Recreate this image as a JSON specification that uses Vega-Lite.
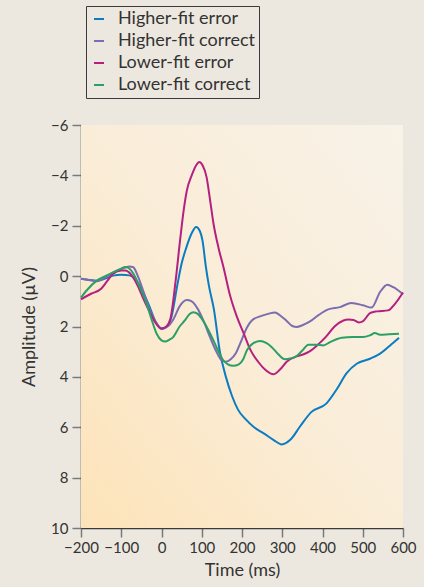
{
  "$schema": "https://vega.github.io/schema/vega-lite/v6.json",
  "autosize": {"type": "none"},
  "width": 322,
  "height": 403,
  "padding": {"left": 81, "top": 125, "right": 21, "bottom": 59},
  "background": "#ede8df",
  "config": {
    "view": {"stroke": null},
    "font": "Lato",
    "axis": {
      "grid": false,
      "domainColor": "#3a3a3a",
      "domainWidth": 1.5,
      "tickColor": "#7a7a7a",
      "tickWidth": 1.5,
      "tickSize": 9,
      "labelFont": "Lato",
      "labelFontSize": 15,
      "labelColor": "#333333",
      "labelOverlap": false,
      "labelFlush": false,
      "titleFont": "Lato",
      "titleFontSize": 18,
      "titleFontWeight": "normal",
      "titleColor": "#333333"
    },
    "legend": {
      "orient": "none",
      "legendX": 5,
      "legendY": -119,
      "strokeColor": "#3a3a3a",
      "strokeWidth": 1,
      "fillColor": "#ede8df",
      "padding": 4,
      "symbolType": "stroke",
      "symbolSize": 100,
      "symbolStrokeWidth": 2,
      "labelFont": "Lato",
      "labelFontSize": 18,
      "labelColor": "#333333",
      "labelOffset": 10,
      "labelLimit": 300,
      "rowPadding": 4
    }
  },
  "layer": [
    {
      "data": {"values": [{"panel": "background"}]},
      "mark": {
        "type": "rect",
        "color": {
          "gradient": "linear",
          "x1": 0, "y1": 1, "x2": 1, "y2": 0,
          "stops": [
            {"offset": 0, "color": "#fde3b8"},
            {"offset": 0.5, "color": "#faedd8"},
            {"offset": 1, "color": "#f8f2e8"}
          ]
        }
      },
      "encoding": {
        "x": {"datum": -200, "type": "quantitative", "scale": {"domain": [-200, 600], "nice": false}, "axis": {"values": [-200, -100, 0, 100, 200, 300, 400, 500, 600], "labelPadding": 3, "titlePadding": 6}, "title": "Time (ms)"},
        "x2": {"datum": 600},
        "y": {"datum": -6, "type": "quantitative", "scale": {"domain": [-6, 10], "reverse": true, "nice": false}, "axis": {"values": [-6, -4, -2, 0, 2, 4, 6, 8, 10], "labelPadding": 4, "titlePadding": 12}, "title": "Amplitude (µV)"},
        "y2": {"datum": 10}
      }
    },
    {
      "data": {
        "values": [
          {"s": "Higher-fit error", "t": -200, "a": 0.1},
          {"s": "Higher-fit error", "t": -180, "a": 0.15},
          {"s": "Higher-fit error", "t": -160, "a": 0.18},
          {"s": "Higher-fit error", "t": -140, "a": 0.1},
          {"s": "Higher-fit error", "t": -120, "a": -0.02},
          {"s": "Higher-fit error", "t": -100, "a": -0.05},
          {"s": "Higher-fit error", "t": -80, "a": -0.03},
          {"s": "Higher-fit error", "t": -65, "a": 0.12},
          {"s": "Higher-fit error", "t": -50, "a": 0.5},
          {"s": "Higher-fit error", "t": -30, "a": 1.2},
          {"s": "Higher-fit error", "t": -15, "a": 1.8},
          {"s": "Higher-fit error", "t": 0, "a": 2.1},
          {"s": "Higher-fit error", "t": 10, "a": 2.05},
          {"s": "Higher-fit error", "t": 25, "a": 1.6},
          {"s": "Higher-fit error", "t": 40, "a": 0.3},
          {"s": "Higher-fit error", "t": 50, "a": -0.5},
          {"s": "Higher-fit error", "t": 62, "a": -1.15},
          {"s": "Higher-fit error", "t": 75, "a": -1.7},
          {"s": "Higher-fit error", "t": 86, "a": -1.95},
          {"s": "Higher-fit error", "t": 95, "a": -1.8},
          {"s": "Higher-fit error", "t": 102, "a": -1.4},
          {"s": "Higher-fit error", "t": 110, "a": -0.4},
          {"s": "Higher-fit error", "t": 118, "a": 0.4},
          {"s": "Higher-fit error", "t": 130, "a": 1.3},
          {"s": "Higher-fit error", "t": 145, "a": 3.0},
          {"s": "Higher-fit error", "t": 160, "a": 4.0},
          {"s": "Higher-fit error", "t": 175, "a": 4.75},
          {"s": "Higher-fit error", "t": 190, "a": 5.3},
          {"s": "Higher-fit error", "t": 210, "a": 5.7},
          {"s": "Higher-fit error", "t": 230, "a": 6.0},
          {"s": "Higher-fit error", "t": 255, "a": 6.25},
          {"s": "Higher-fit error", "t": 278, "a": 6.5},
          {"s": "Higher-fit error", "t": 299, "a": 6.68},
          {"s": "Higher-fit error", "t": 320, "a": 6.5},
          {"s": "Higher-fit error", "t": 345, "a": 5.95},
          {"s": "Higher-fit error", "t": 372, "a": 5.4},
          {"s": "Higher-fit error", "t": 410, "a": 5.05},
          {"s": "Higher-fit error", "t": 435, "a": 4.5},
          {"s": "Higher-fit error", "t": 460, "a": 3.85},
          {"s": "Higher-fit error", "t": 485, "a": 3.48},
          {"s": "Higher-fit error", "t": 518, "a": 3.28},
          {"s": "Higher-fit error", "t": 543, "a": 3.08},
          {"s": "Higher-fit error", "t": 568, "a": 2.75},
          {"s": "Higher-fit error", "t": 590, "a": 2.45},

          {"s": "Higher-fit correct", "t": -200, "a": 0.1},
          {"s": "Higher-fit correct", "t": -180, "a": 0.15},
          {"s": "Higher-fit correct", "t": -160, "a": 0.2},
          {"s": "Higher-fit correct", "t": -140, "a": 0.05},
          {"s": "Higher-fit correct", "t": -120, "a": -0.15},
          {"s": "Higher-fit correct", "t": -100, "a": -0.28},
          {"s": "Higher-fit correct", "t": -80, "a": -0.38},
          {"s": "Higher-fit correct", "t": -70, "a": -0.35},
          {"s": "Higher-fit correct", "t": -60, "a": -0.05},
          {"s": "Higher-fit correct", "t": -45, "a": 0.6},
          {"s": "Higher-fit correct", "t": -30, "a": 1.3},
          {"s": "Higher-fit correct", "t": -15, "a": 1.8},
          {"s": "Higher-fit correct", "t": 0, "a": 2.08},
          {"s": "Higher-fit correct", "t": 15, "a": 2.0},
          {"s": "Higher-fit correct", "t": 30, "a": 1.7},
          {"s": "Higher-fit correct", "t": 45, "a": 1.2},
          {"s": "Higher-fit correct", "t": 63, "a": 0.95},
          {"s": "Higher-fit correct", "t": 75, "a": 1.0},
          {"s": "Higher-fit correct", "t": 90, "a": 1.3},
          {"s": "Higher-fit correct", "t": 105, "a": 1.8},
          {"s": "Higher-fit correct", "t": 120, "a": 2.4},
          {"s": "Higher-fit correct", "t": 135, "a": 2.95},
          {"s": "Higher-fit correct", "t": 150, "a": 3.35},
          {"s": "Higher-fit correct", "t": 160, "a": 3.4},
          {"s": "Higher-fit correct", "t": 172, "a": 3.3},
          {"s": "Higher-fit correct", "t": 185, "a": 3.05},
          {"s": "Higher-fit correct", "t": 200, "a": 2.5},
          {"s": "Higher-fit correct", "t": 212, "a": 2.05},
          {"s": "Higher-fit correct", "t": 225, "a": 1.75},
          {"s": "Higher-fit correct", "t": 245, "a": 1.6},
          {"s": "Higher-fit correct", "t": 265, "a": 1.5},
          {"s": "Higher-fit correct", "t": 282, "a": 1.44},
          {"s": "Higher-fit correct", "t": 298, "a": 1.6},
          {"s": "Higher-fit correct", "t": 311, "a": 1.78},
          {"s": "Higher-fit correct", "t": 325, "a": 1.98},
          {"s": "Higher-fit correct", "t": 336, "a": 2.02},
          {"s": "Higher-fit correct", "t": 350, "a": 1.95},
          {"s": "Higher-fit correct", "t": 369, "a": 1.8},
          {"s": "Higher-fit correct", "t": 390, "a": 1.55},
          {"s": "Higher-fit correct", "t": 414, "a": 1.32},
          {"s": "Higher-fit correct", "t": 443, "a": 1.23},
          {"s": "Higher-fit correct", "t": 472, "a": 1.07},
          {"s": "Higher-fit correct", "t": 501, "a": 1.16},
          {"s": "Higher-fit correct", "t": 522, "a": 1.25},
          {"s": "Higher-fit correct", "t": 543, "a": 0.63},
          {"s": "Higher-fit correct", "t": 561, "a": 0.34},
          {"s": "Higher-fit correct", "t": 576, "a": 0.44},
          {"s": "Higher-fit correct", "t": 600, "a": 0.72},

          {"s": "Lower-fit error", "t": -200, "a": 0.92},
          {"s": "Lower-fit error", "t": -175, "a": 0.7},
          {"s": "Lower-fit error", "t": -150, "a": 0.5},
          {"s": "Lower-fit error", "t": -135, "a": 0.2},
          {"s": "Lower-fit error", "t": -120, "a": -0.1},
          {"s": "Lower-fit error", "t": -100, "a": -0.22},
          {"s": "Lower-fit error", "t": -90, "a": -0.22},
          {"s": "Lower-fit error", "t": -75, "a": -0.05},
          {"s": "Lower-fit error", "t": -60, "a": 0.35},
          {"s": "Lower-fit error", "t": -45, "a": 0.9},
          {"s": "Lower-fit error", "t": -30, "a": 1.4},
          {"s": "Lower-fit error", "t": -15, "a": 1.85},
          {"s": "Lower-fit error", "t": 0, "a": 2.08},
          {"s": "Lower-fit error", "t": 12, "a": 2.0},
          {"s": "Lower-fit error", "t": 22, "a": 1.7},
          {"s": "Lower-fit error", "t": 35, "a": 0.2},
          {"s": "Lower-fit error", "t": 46, "a": -1.4},
          {"s": "Lower-fit error", "t": 55, "a": -2.6},
          {"s": "Lower-fit error", "t": 63, "a": -3.4},
          {"s": "Lower-fit error", "t": 75, "a": -4.0},
          {"s": "Lower-fit error", "t": 88, "a": -4.45},
          {"s": "Lower-fit error", "t": 94, "a": -4.53},
          {"s": "Lower-fit error", "t": 102, "a": -4.4},
          {"s": "Lower-fit error", "t": 112, "a": -3.93},
          {"s": "Lower-fit error", "t": 120, "a": -3.1},
          {"s": "Lower-fit error", "t": 129, "a": -2.1},
          {"s": "Lower-fit error", "t": 142, "a": -1.1},
          {"s": "Lower-fit error", "t": 154, "a": -0.35},
          {"s": "Lower-fit error", "t": 170, "a": 0.75},
          {"s": "Lower-fit error", "t": 187, "a": 1.6},
          {"s": "Lower-fit error", "t": 205, "a": 2.3},
          {"s": "Lower-fit error", "t": 220, "a": 2.9},
          {"s": "Lower-fit error", "t": 240, "a": 3.4},
          {"s": "Lower-fit error", "t": 260, "a": 3.75},
          {"s": "Lower-fit error", "t": 278, "a": 3.9},
          {"s": "Lower-fit error", "t": 295, "a": 3.7},
          {"s": "Lower-fit error", "t": 311, "a": 3.4},
          {"s": "Lower-fit error", "t": 336, "a": 3.18},
          {"s": "Lower-fit error", "t": 350, "a": 3.12},
          {"s": "Lower-fit error", "t": 369, "a": 2.98},
          {"s": "Lower-fit error", "t": 390, "a": 2.7},
          {"s": "Lower-fit error", "t": 410, "a": 2.38},
          {"s": "Lower-fit error", "t": 430, "a": 2.0},
          {"s": "Lower-fit error", "t": 452, "a": 1.76},
          {"s": "Lower-fit error", "t": 465, "a": 1.72},
          {"s": "Lower-fit error", "t": 477, "a": 1.74},
          {"s": "Lower-fit error", "t": 490, "a": 1.84},
          {"s": "Lower-fit error", "t": 500, "a": 1.8},
          {"s": "Lower-fit error", "t": 518, "a": 1.47},
          {"s": "Lower-fit error", "t": 535, "a": 1.4},
          {"s": "Lower-fit error", "t": 563, "a": 1.36},
          {"s": "Lower-fit error", "t": 580, "a": 1.1},
          {"s": "Lower-fit error", "t": 600, "a": 0.65},

          {"s": "Lower-fit correct", "t": -200, "a": 0.85},
          {"s": "Lower-fit correct", "t": -185, "a": 0.55},
          {"s": "Lower-fit correct", "t": -160, "a": 0.17},
          {"s": "Lower-fit correct", "t": -140, "a": 0.0},
          {"s": "Lower-fit correct", "t": -120, "a": -0.15},
          {"s": "Lower-fit correct", "t": -100, "a": -0.3},
          {"s": "Lower-fit correct", "t": -90, "a": -0.36},
          {"s": "Lower-fit correct", "t": -80, "a": -0.3},
          {"s": "Lower-fit correct", "t": -70, "a": -0.1},
          {"s": "Lower-fit correct", "t": -55, "a": 0.4},
          {"s": "Lower-fit correct", "t": -37, "a": 1.1},
          {"s": "Lower-fit correct", "t": -25, "a": 1.7},
          {"s": "Lower-fit correct", "t": -12, "a": 2.29},
          {"s": "Lower-fit correct", "t": 0, "a": 2.55},
          {"s": "Lower-fit correct", "t": 9, "a": 2.6},
          {"s": "Lower-fit correct", "t": 20, "a": 2.52},
          {"s": "Lower-fit correct", "t": 29, "a": 2.42},
          {"s": "Lower-fit correct", "t": 45, "a": 2.0},
          {"s": "Lower-fit correct", "t": 58, "a": 1.76},
          {"s": "Lower-fit correct", "t": 70, "a": 1.5},
          {"s": "Lower-fit correct", "t": 79, "a": 1.43},
          {"s": "Lower-fit correct", "t": 90, "a": 1.5},
          {"s": "Lower-fit correct", "t": 100, "a": 1.69},
          {"s": "Lower-fit correct", "t": 115, "a": 2.1},
          {"s": "Lower-fit correct", "t": 129, "a": 2.55},
          {"s": "Lower-fit correct", "t": 142, "a": 3.0},
          {"s": "Lower-fit correct", "t": 154, "a": 3.35},
          {"s": "Lower-fit correct", "t": 165, "a": 3.5},
          {"s": "Lower-fit correct", "t": 178, "a": 3.56},
          {"s": "Lower-fit correct", "t": 192, "a": 3.5},
          {"s": "Lower-fit correct", "t": 203, "a": 3.3},
          {"s": "Lower-fit correct", "t": 212, "a": 2.95},
          {"s": "Lower-fit correct", "t": 225, "a": 2.7},
          {"s": "Lower-fit correct", "t": 245, "a": 2.58},
          {"s": "Lower-fit correct", "t": 260, "a": 2.65},
          {"s": "Lower-fit correct", "t": 274, "a": 2.82},
          {"s": "Lower-fit correct", "t": 290, "a": 3.1},
          {"s": "Lower-fit correct", "t": 307, "a": 3.3},
          {"s": "Lower-fit correct", "t": 320, "a": 3.27},
          {"s": "Lower-fit correct", "t": 336, "a": 3.17},
          {"s": "Lower-fit correct", "t": 350, "a": 2.95},
          {"s": "Lower-fit correct", "t": 365, "a": 2.72},
          {"s": "Lower-fit correct", "t": 385, "a": 2.72},
          {"s": "Lower-fit correct", "t": 402, "a": 2.75},
          {"s": "Lower-fit correct", "t": 419, "a": 2.62},
          {"s": "Lower-fit correct", "t": 448, "a": 2.45},
          {"s": "Lower-fit correct", "t": 475, "a": 2.42},
          {"s": "Lower-fit correct", "t": 501, "a": 2.42},
          {"s": "Lower-fit correct", "t": 518, "a": 2.35},
          {"s": "Lower-fit correct", "t": 530, "a": 2.26},
          {"s": "Lower-fit correct", "t": 543, "a": 2.33},
          {"s": "Lower-fit correct", "t": 565, "a": 2.31},
          {"s": "Lower-fit correct", "t": 590, "a": 2.29}
        ]
      },
      "mark": {"type": "line", "interpolate": "monotone", "strokeWidth": 2},
      "encoding": {
        "x": {"field": "t", "type": "quantitative", "title": "Time (ms)"},
        "y": {"field": "a", "type": "quantitative", "title": "Amplitude (µV)"},
        "color": {
          "field": "s",
          "type": "nominal",
          "title": null,
          "scale": {
            "domain": ["Higher-fit error", "Higher-fit correct", "Lower-fit error", "Lower-fit correct"],
            "range": ["#0a7cc2", "#7b6db0", "#b5207f", "#2a9f66"]
          }
        }
      }
    }
  ]
}
